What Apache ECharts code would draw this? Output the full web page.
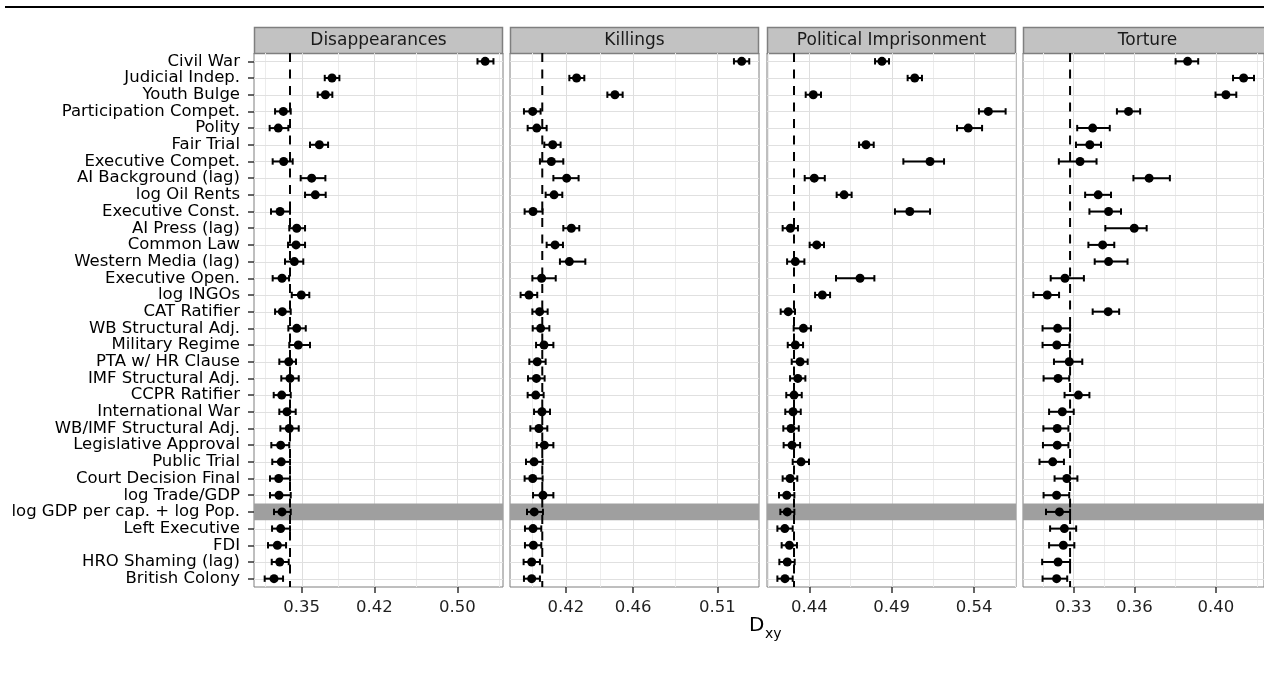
<!DOCTYPE html>
<html>
<head>
<meta charset="utf-8">
<script src="https://cdn.jsdelivr.net/npm/echarts@6/dist/echarts.min.js"></script>
<style>
  html, body { margin: 0; padding: 0; background: #ffffff; }
  #chart { width: 1264px; height: 673px; }
</style>
</head>
<body>
<div id="chart"></div>
<script>
// Predictors, top to bottom
const predictors = [
  'Civil War', 'Judicial Indep.', 'Youth Bulge', 'Participation Compet.', 'Polity',
  'Fair Trial', 'Executive Compet.', 'AI Background (lag)', 'log Oil Rents', 'Executive Const.',
  'AI Press (lag)', 'Common Law', 'Western Media (lag)', 'Executive Open.', 'log INGOs',
  'CAT Ratifier', 'WB Structural Adj.', 'Military Regime', 'PTA w/ HR Clause', 'IMF Structural Adj.',
  'CCPR Ratifier', 'International War', 'WB/IMF Structural Adj.', 'Legislative Approval', 'Public Trial',
  'Court Decision Final', 'log Trade/GDP', 'log GDP per cap. + log Pop.', 'Left Executive', 'FDI',
  'HRO Shaming (lag)', 'British Colony'
];
const highlightRow = 'log GDP per cap. + log Pop.';
const outcomes = ['Disappearances', 'Killings', 'Political Imprisonment', 'Torture'];

// Disappearances: D_xy estimate with interval
const disEst = [0.5268, 0.3792, 0.3728, 0.3323, 0.3274, 0.3670, 0.3326, 0.3596, 0.3631, 0.3291,
  0.3452, 0.3445, 0.3429, 0.3310, 0.3496, 0.3313, 0.3452, 0.3467, 0.3375, 0.3387,
  0.3307, 0.3358, 0.3380, 0.3297, 0.3303, 0.3278, 0.3281, 0.3310, 0.3297, 0.3265,
  0.3288, 0.3233];
const disLo = [0.5194, 0.3722, 0.3654, 0.3243, 0.3191, 0.3580, 0.3220, 0.3490, 0.3532, 0.3204,
  0.3380, 0.3368, 0.3339, 0.3220, 0.3404, 0.3243, 0.3371, 0.3380, 0.3284, 0.3303,
  0.3230, 0.3284, 0.3294, 0.3207, 0.3216, 0.3194, 0.3194, 0.3233, 0.3214, 0.3175,
  0.3211, 0.3143];
const disHi = [0.5348, 0.3863, 0.3795, 0.3394, 0.3371, 0.3754, 0.3413, 0.3728, 0.3731, 0.3387,
  0.3532, 0.3532, 0.3515, 0.3378, 0.3573, 0.3394, 0.3539, 0.3580, 0.3445, 0.3471,
  0.3394, 0.3442, 0.3471, 0.3380, 0.3387, 0.3387, 0.3394, 0.3394, 0.3387, 0.3349,
  0.3375, 0.3320];

// Killings
const kilEst = [0.5245, 0.4263, 0.4491, 0.4002, 0.4026, 0.4121, 0.4113, 0.4204, 0.4129, 0.4004,
  0.4232, 0.4135, 0.4220, 0.4055, 0.3980, 0.4043, 0.4049, 0.4069, 0.4029, 0.4024,
  0.4020, 0.4057, 0.4039, 0.4071, 0.4010, 0.4002, 0.4063, 0.4011, 0.4004, 0.4006,
  0.3996, 0.3996];
const kilLo = [0.5199, 0.4220, 0.4446, 0.3950, 0.3972, 0.4071, 0.4045, 0.4125, 0.4079, 0.3954,
  0.4184, 0.4085, 0.4164, 0.4000, 0.3930, 0.4000, 0.4002, 0.4022, 0.3982, 0.3974,
  0.3972, 0.4010, 0.3988, 0.4026, 0.3962, 0.3954, 0.4004, 0.3968, 0.3956, 0.3956,
  0.3948, 0.3950];
const kilHi = [0.5290, 0.4309, 0.4537, 0.4049, 0.4085, 0.4168, 0.4184, 0.4275, 0.4178, 0.4061,
  0.4279, 0.4182, 0.4315, 0.4139, 0.4029, 0.4091, 0.4101, 0.4125, 0.4079, 0.4073,
  0.4067, 0.4105, 0.4089, 0.4125, 0.4061, 0.4061, 0.4125, 0.4063, 0.4053, 0.4053,
  0.4045, 0.4045];

// Political Imprisonment
const polEst = [0.4841, 0.5040, 0.4424, 0.5487, 0.5365, 0.4744, 0.5133, 0.4430, 0.4611, 0.5010,
  0.4285, 0.4445, 0.4315, 0.4708, 0.4479, 0.4272, 0.4364, 0.4315, 0.4344, 0.4330,
  0.4307, 0.4301, 0.4289, 0.4295, 0.4350, 0.4283, 0.4263, 0.4266, 0.4251, 0.4279,
  0.4266, 0.4252];
const polLo = [0.4799, 0.4997, 0.4378, 0.5430, 0.5297, 0.4702, 0.4971, 0.4372, 0.4566, 0.4920,
  0.4238, 0.4402, 0.4265, 0.4562, 0.4435, 0.4226, 0.4305, 0.4269, 0.4293, 0.4283,
  0.4260, 0.4254, 0.4242, 0.4244, 0.4299, 0.4238, 0.4216, 0.4224, 0.4206, 0.4232,
  0.4218, 0.4206];
const polHi = [0.4884, 0.5084, 0.4471, 0.5592, 0.5449, 0.4791, 0.5218, 0.4494, 0.4657, 0.5133,
  0.4331, 0.4489, 0.4370, 0.4795, 0.4526, 0.4313, 0.4410, 0.4362, 0.4390, 0.4376,
  0.4354, 0.4348, 0.4336, 0.4344, 0.4398, 0.4327, 0.4309, 0.4309, 0.4299, 0.4325,
  0.4311, 0.4299];

// Torture
const torEst = [0.3861, 0.4136, 0.4049, 0.3571, 0.3395, 0.3381, 0.3333, 0.3672, 0.3422, 0.3473,
  0.3599, 0.3444, 0.3473, 0.3259, 0.3172, 0.3471, 0.3223, 0.3219, 0.3280, 0.3225,
  0.3325, 0.3246, 0.3221, 0.3221, 0.3199, 0.3268, 0.3218, 0.3232, 0.3256, 0.3251,
  0.3225, 0.3218];
const torLo = [0.3802, 0.4084, 0.3998, 0.3514, 0.3319, 0.3313, 0.3229, 0.3595, 0.3358, 0.3379,
  0.3457, 0.3374, 0.3405, 0.3189, 0.3104, 0.3395, 0.3149, 0.3149, 0.3205, 0.3154,
  0.3257, 0.3181, 0.3153, 0.3151, 0.3134, 0.3208, 0.3154, 0.3166, 0.3186, 0.3181,
  0.3147, 0.3149];
const torHi = [0.3913, 0.4187, 0.4100, 0.3628, 0.3479, 0.3436, 0.3414, 0.3774, 0.3485, 0.3534,
  0.3660, 0.3501, 0.3566, 0.3352, 0.3230, 0.3525, 0.3284, 0.3281, 0.3344, 0.3280,
  0.3379, 0.3302, 0.3276, 0.3276, 0.3254, 0.3320, 0.3280, 0.3284, 0.3314, 0.3305,
  0.3284, 0.3270];

// Axis breaks and reference (dashed) values per panel
const disTicks = [0.35, 0.42, 0.50];
const kilTicks = [0.42, 0.46, 0.51];
const polTicks = [0.44, 0.49, 0.54];
const torTicks = [0.33, 0.36, 0.40];
const baselines = [0.3387, 0.4059, 0.4307, 0.3284];
const axisMins = [0.304, 0.3867, 0.4143, 0.3053];
const axisMaxs = [0.544, 0.5348, 0.5655, 0.4236];

const panels = [
  { est: disEst, lo: disLo, hi: disHi, ticks: disTicks },
  { est: kilEst, lo: kilLo, hi: kilHi, ticks: kilTicks },
  { est: polEst, lo: polLo, hi: polHi, ticks: polTicks },
  { est: torEst, lo: torLo, hi: torHi, ticks: torTicks }
];

// Layout (pixels)
const FONT = '"DejaVu Sans", "Noto Sans", sans-serif';
const panelLefts = [254, 510, 767, 1023];
const panelWidth = 249;
const panelTop = 53;
const panelHeight = 534;
const stripTop = 27;
const stripHeight = 26;

// minor grid breaks sit halfway between the major ones (and one half-step beyond)
function minorBreaks(t) {
  const out = [t[0] - (t[1] - t[0]) / 2];
  for (let i = 0; i < t.length - 1; i++) out.push((t[i] + t[i + 1]) / 2);
  out.push(t[t.length - 1] + (t[t.length - 1] - t[t.length - 2]) / 2);
  return out;
}

const highlightIndex = predictors.indexOf(highlightRow);

function backdropRenderer(p, k) {
  const minors = minorBreaks(p.ticks);
  return function (params, api) {
    const cs = params.coordSys;
    const children = [];
    const x0 = cs.x, x1 = cs.x + cs.width, y0 = cs.y, y1 = cs.y + cs.height;
    const vline = (v, color) => {
      const x = Math.round(api.coord([v, 0])[0]) + 0.5;
      if (x < x0 || x > x1) return;
      children.push({ type: 'line', shape: { x1: x, y1: y0, x2: x, y2: y1 },
        style: { stroke: color, lineWidth: 1 } });
    };
    minors.forEach(v => vline(v, '#ececec'));
    p.ticks.forEach(v => vline(v, '#dedede'));
    predictors.forEach((name, i) => {
      const y = Math.round(api.coord([p.ticks[0], i])[1]) + 0.5;
      children.push({ type: 'line', shape: { x1: x0, y1: y, x2: x1, y2: y },
        style: { stroke: '#e0e0e0', lineWidth: 1 } });
    });
    // highlighted predictor row
    const yc = api.coord([p.ticks[0], highlightIndex])[1];
    const bh = api.size([0, 1])[1];
    children.push({ type: 'rect', shape: { x: x0, y: yc - bh / 2, width: cs.width, height: bh },
      style: { fill: '#9f9f9f' } });
    // dashed reference line
    const xb = api.coord([baselines[k], 0])[0];
    children.push({ type: 'line', shape: { x1: xb, y1: y0, x2: xb, y2: y1 },
      style: { stroke: '#000', lineWidth: 2, lineDash: [9, 7.5] } });
    return { type: 'group', children };
  };
}

function errorBarRenderer(params, api) {
  const row = api.value(2);
  const a = api.coord([api.value(0), row]);
  const b = api.coord([api.value(1), row]);
  const cap = 3.2;
  const st = { stroke: '#000', lineWidth: 2 };
  return {
    type: 'group',
    children: [
      { type: 'line', shape: { x1: a[0], y1: a[1], x2: b[0], y2: b[1] }, style: st },
      { type: 'line', shape: { x1: a[0], y1: a[1] - cap, x2: a[0], y2: a[1] + cap }, style: st },
      { type: 'line', shape: { x1: b[0], y1: b[1] - cap, x2: b[0], y2: b[1] + cap }, style: st }
    ]
  };
}

const grids = [], xAxes = [], yAxes = [], series = [], graphics = [];

panels.forEach((p, k) => {
  grids.push({
    left: panelLefts[k], top: panelTop, width: panelWidth, height: panelHeight,
    show: true, backgroundColor: '#ffffff', borderColor: '#7f7f7f', borderWidth: 1
  });
  xAxes.push({
    type: 'value', gridIndex: k, min: axisMins[k], max: axisMaxs[k],
    axisLine: { show: false },
    splitLine: { show: false },
    axisTick: { show: true, length: 6, customValues: p.ticks, lineStyle: { color: '#333', width: 1.5 } },
    axisLabel: {
      customValues: p.ticks, margin: 12, fontSize: 16.5, fontFamily: FONT, color: '#1f1f1f',
      formatter: v => v.toFixed(2)
    }
  });
  yAxes.push({
    type: 'category', gridIndex: k, data: predictors, inverse: true,
    axisLine: { show: false },
    splitLine: { show: false },
    axisTick: { show: k === 0, alignWithLabel: true, length: 6, lineStyle: { color: '#333', width: 1.5 } },
    axisLabel: { show: k === 0, interval: 0, margin: 14, fontSize: 16.5, fontFamily: FONT, color: '#000' }
  });
  series.push({
    type: 'custom', xAxisIndex: k, yAxisIndex: k, z: 1, silent: true,
    renderItem: backdropRenderer(p, k),
    data: [[p.ticks[0], 0]], encode: { x: 0, y: 1 }
  });
  series.push({
    type: 'custom', xAxisIndex: k, yAxisIndex: k, z: 3, silent: true,
    renderItem: errorBarRenderer,
    data: p.lo.map((lo, i) => [lo, p.hi[i], i]),
    encode: { x: [0, 1], y: 2 }
  });
  series.push({
    type: 'scatter', xAxisIndex: k, yAxisIndex: k, z: 4, silent: true,
    symbol: 'circle', symbolSize: 9,
    itemStyle: { color: '#000', opacity: 1 },
    data: p.est.map((v, i) => [v, i])
  });
  // facet strip
  graphics.push({
    type: 'rect', silent: true,
    shape: { x: panelLefts[k] + 0.5, y: stripTop + 0.5, width: panelWidth - 1, height: stripHeight },
    style: { fill: '#c2c2c2', stroke: '#7f7f7f', lineWidth: 1.5 }
  });
  graphics.push({
    type: 'text', silent: true,
    x: panelLefts[k] + panelWidth / 2, y: stripTop + stripHeight / 2 + 1,
    style: { text: outcomes[k], fontSize: 17, fontFamily: FONT, fill: '#1a1a1a',
      textAlign: 'center', textVerticalAlign: 'middle' }
  });
});

// rule across the top
graphics.push({
  type: 'line', silent: true,
  shape: { x1: 5, y1: 7, x2: 1264, y2: 7 },
  style: { stroke: '#000', lineWidth: 2 }
});
// shared x-axis title: D with subscript xy
graphics.push({
  type: 'text', silent: true, x: 749, y: 626,
  style: { text: 'D', fontSize: 20, fontFamily: FONT, fill: '#000', textAlign: 'left', textVerticalAlign: 'middle' }
});
graphics.push({
  type: 'text', silent: true, x: 765, y: 634,
  style: { text: 'xy', fontSize: 14, fontFamily: FONT, fill: '#000', textAlign: 'left', textVerticalAlign: 'middle' }
});

const chart = echarts.init(document.getElementById('chart'), null, { renderer: 'canvas' });
chart.setOption({
  animation: false,
  backgroundColor: '#ffffff',
  grid: grids,
  xAxis: xAxes,
  yAxis: yAxes,
  series: series,
  graphic: graphics
});
</script>
</body>
</html>
